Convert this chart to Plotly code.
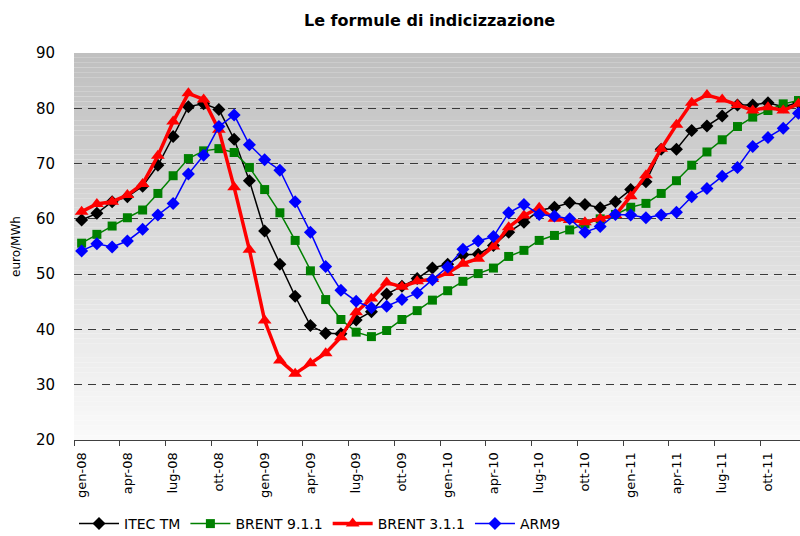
import plotly.graph_objects as go

mesi = [
    "gen-08", "feb-08", "mar-08", "apr-08", "mag-08", "giu-08", "lug-08", "ago-08", "set-08", "ott-08", "nov-08", "dic-08",
    "gen-09", "feb-09", "mar-09", "apr-09", "mag-09", "giu-09", "lug-09", "ago-09", "set-09", "ott-09", "nov-09", "dic-09",
    "gen-10", "feb-10", "mar-10", "apr-10", "mag-10", "giu-10", "lug-10", "ago-10", "set-10", "ott-10", "nov-10", "dic-10",
    "gen-11", "feb-11", "mar-11", "apr-11", "mag-11", "giu-11", "lug-11", "ago-11", "set-11", "ott-11", "nov-11", "dic-11",
]

itec_tm = [
    59.8, 61.0, 63.1, 64.0, 65.9, 69.7, 74.9, 80.3, 80.8, 79.8, 74.4, 66.9,
    57.8, 51.8, 46.0, 40.7, 39.3, 39.2, 41.7, 43.2, 46.4, 47.8, 49.2, 51.1,
    51.8, 53.5, 53.6, 55.2, 57.6, 59.4, 61.5, 62.1, 62.9, 62.6, 62.0, 63.1,
    65.3, 66.7, 72.6, 72.6, 76.0, 76.8, 78.6, 80.6, 80.6, 81.0, 80.3, 81.0,
]
brent_911 = [
    55.6, 57.2, 58.7, 60.2, 61.6, 64.6, 67.8, 70.9, 72.3, 72.7, 72.0, 69.3,
    65.3, 61.1, 56.1, 50.6, 45.4, 41.8, 39.5, 38.7, 39.8, 41.8, 43.4, 45.3,
    47.0, 48.7, 50.1, 51.1, 53.2, 54.3, 56.1, 57.0, 58.0, 59.1, 60.0, 60.8,
    62.1, 62.8, 64.6, 66.9, 69.7, 72.1, 74.3, 76.7, 78.4, 79.6, 80.8, 81.4,
]
brent_311 = [
    61.3, 62.7, 63.1, 64.3, 66.3, 71.4, 77.6, 82.7, 81.6, 76.1, 65.7, 54.4,
    41.6, 34.4, 32.0, 33.9, 35.7, 38.6, 43.1, 45.6, 48.5, 47.7, 48.7, 49.1,
    50.2, 51.9, 52.8, 55.0, 58.5, 60.6, 62.0, 60.0, 59.8, 59.4, 60.0, 60.7,
    64.1, 67.9, 72.7, 77.0, 81.0, 82.4, 81.6, 80.6, 79.6, 80.2, 79.6, 80.8,
]
arm9 = [
    54.2, 55.5, 54.9, 56.0, 58.1, 60.7, 62.8, 68.1, 71.5, 76.7, 78.8, 73.4,
    70.7, 68.8, 63.1, 57.6, 51.4, 47.1, 45.1, 43.9, 44.2, 45.4, 46.6, 49.0,
    51.3, 54.5, 56.0, 56.8, 61.1, 62.6, 60.8, 60.5, 60.0, 57.6, 58.6, 60.8,
    60.7, 60.2, 60.7, 61.2, 64.0, 65.5, 67.7, 69.3, 73.1, 74.7, 76.4, 79.1,
]

FONT = "DejaVu Sans"
x_pos = list(range(len(mesi)))
tick_pos = x_pos[::3]

series = [
    ("ITEC TM", itec_tm, "#000000", "diamond", 10, 1.5),
    ("BRENT 9.1.1", brent_911, "#008000", "square", 9, 1.5),
    ("BRENT 3.1.1", brent_311, "#ff0000", "triangle-up", 12, 3.5),
    ("ARM9", arm9, "#0000ff", "diamond", 10, 1.5),
]

fig = go.Figure()
for name, values, color, symbol, size, width in series:
    fig.add_trace(go.Scatter(
        x=x_pos,
        y=values,
        name=name,
        mode="lines+markers",
        line=dict(color=color, width=width),
        marker=dict(symbol=symbol, size=size, color=color),
        customdata=mesi,
        hovertemplate="%{customdata}: %{y:.1f}<extra>" + name + "</extra>",
    ))

# sfondo sfumato grigio -> bianco dell'area del grafico
n_bands = 80
for i in range(n_bands):
    t = i / (n_bands - 1)
    c = int(250 - (250 - 192) * t)
    fig.add_shape(
        type="rect", xref="x domain", yref="y domain",
        x0=0, x1=1, y0=i / n_bands, y1=(i + 1) / n_bands,
        fillcolor=f"rgb({c},{c},{c})", line=dict(width=0), layer="below",
    )

fig.update_layout(
    width=800,
    height=536,
    title=dict(
        text="<b>Le formule di indicizzazione</b>",
        x=0.537, xanchor="center", xref="container",
        y=1 - 20 / 536, yanchor="middle",
        font=dict(family=FONT, size=16, color="#000000"),
    ),
    font=dict(family=FONT, size=13, color="#000000"),
    paper_bgcolor="white",
    plot_bgcolor="white",
    margin=dict(l=74, r=0, t=53, b=96, autoexpand=False),
    showlegend=True,
    legend=dict(
        orientation="h", x=0.0, xanchor="left",
        yref="container", y=1 - 524 / 536, yanchor="middle",
        font=dict(family=FONT, size=14), itemwidth=40, bgcolor="rgba(0,0,0,0)",
    ),
    hovermode="closest",
)
fig.update_xaxes(
    range=[-0.5, 47.1],
    tickmode="array",
    tickvals=tick_pos,
    ticktext=mesi[::3],
    tickangle=-90,
    ticks="",
    ticklabelstandoff=6,
    tickfont=dict(size=13),
    showgrid=False,
    zeroline=False,
    showline=True,
    linecolor="#404040",
    linewidth=1,
    minor=dict(
        tickmode="array",
        tickvals=[p - 0.5 for p in tick_pos],
        ticks="outside",
        ticklen=5,
        tickcolor="#404040",
        showgrid=False,
    ),
)
fig.update_yaxes(
    range=[20, 90],
    dtick=10,
    title=dict(text="euro/MWh", font=dict(size=12), standoff=12),
    tickfont=dict(size=15),
    ticklabelstandoff=18,
    showgrid=True,
    gridcolor="#3a3a3a",
    gridwidth=1,
    griddash="8px,6px",
    zeroline=False,
    showline=False,
    ticks="",
)

fig.write_html(
    "out.html",
    config={"displayModeBar": False},
    post_script="document.body.style.margin = '0';",
)
